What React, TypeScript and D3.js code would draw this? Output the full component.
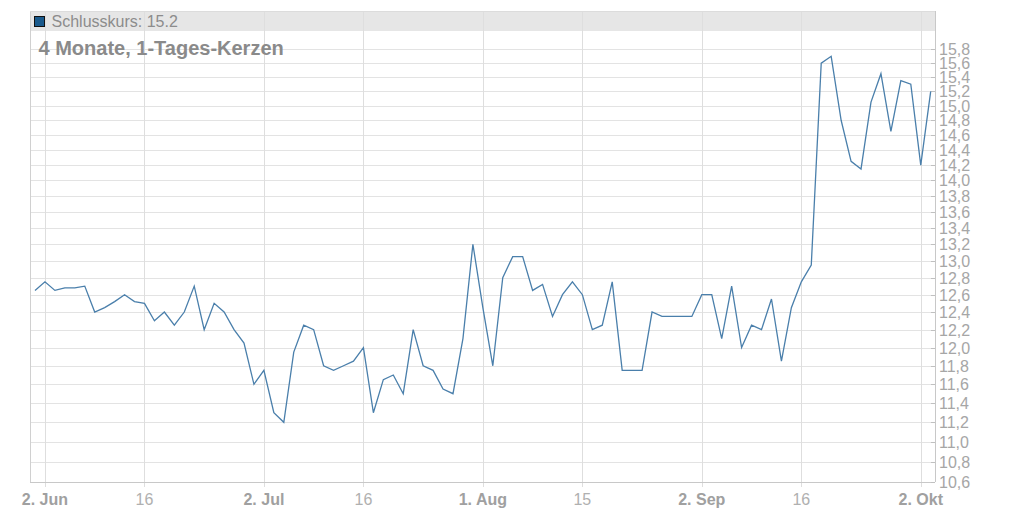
import React from "react";
import * as d3 from "d3";

const closes = [
  12.65, 12.75, 12.65, 12.68, 12.68, 12.7, 12.4, 12.45, 12.52, 12.6,
  12.52, 12.5, 12.3, 12.4, 12.25, 12.4, 12.7, 12.2, 12.5, 12.4,
  12.2, 12.05, 11.6, 11.75, 11.3, 11.2, 11.95, 12.25, 12.2, 11.8,
  11.75, 11.8, 11.85, 12.0, 11.3, 11.65, 11.7, 11.5, 12.2, 11.8,
  11.75, 11.55, 11.5, 12.1, 13.2, 12.45, 11.8, 12.8, 13.05, 13.05,
  12.65, 12.72, 12.35, 12.6, 12.75, 12.6, 12.2, 12.25, 12.75, 11.75,
  11.75, 11.75, 12.4, 12.35, 12.35, 12.35, 12.35, 12.6, 12.6, 12.1,
  12.7, 12.0, 12.25, 12.2, 12.55, 11.85, 12.45, 12.75, 12.95, 15.6,
  15.7, 14.8, 14.25, 14.15, 15.05, 15.45, 14.65, 15.35, 15.3, 14.2, 15.2,
];

const xTickIndex = [1, 11, 23, 33, 45, 55, 67, 77, 89];
const xTickLabels = ["2. Jun", "16", "2. Jul", "16", "1. Aug", "15", "2. Sep", "16", "2. Okt"];
const xTickBold = [true, false, true, false, true, false, true, false, true];

const yTicks = [
  10.6, 10.8, 11.0, 11.2, 11.4, 11.6, 11.8, 12.0, 12.2, 12.4, 12.6, 12.8,
  13.0, 13.2, 13.4, 13.6, 13.8, 14.0, 14.2, 14.4, 14.6, 14.8, 15.0, 15.2,
  15.4, 15.6, 15.8,
];

const seriesName = "Schlusskurs";
const title = "4 Monate, 1-Tages-Kerzen";

export default function App() {
  const W = 1024;
  const H = 512;
  const left = 30;
  const right = 935;
  const top = 11;
  const bottom = 482;

  const x = d3.scaleLinear().domain([0, closes.length - 1]).range([35, 930.7]);
  const y = d3.scaleLog().domain([10.6, 16.37]).range([bottom, top]);

  const line = d3
    .line<number>()
    .x((_, i) => x(i))
    .y((d) => y(d));

  const fmt = (v: number) => d3.format(".1f")(v).replace(".", ",");
  const last = closes[closes.length - 1];
  const font = "'Liberation Sans', Arial, sans-serif";

  return (
    <svg
      width={W}
      height={H}
      style={{ position: "absolute", left: 0, top: 0, display: "block" }}
      fontFamily={font}
    >
      <rect x={0} y={0} width={W} height={H} fill="#ffffff" />
      {yTicks.map((t) => (
        <line
          key={"h" + t}
          x1={left}
          x2={right}
          y1={Math.round(y(t)) + 0.5}
          y2={Math.round(y(t)) + 0.5}
          stroke="#e3e3e3"
          strokeWidth={1}
        />
      ))}
      <rect x={left} y={top} width={right - left} height={20} fill="#e6e6e6" />
      {xTickIndex.map((t, i) => (
        <line
          key={"v" + i}
          x1={Math.round(x(t)) + 0.5}
          x2={Math.round(x(t)) + 0.5}
          y1={top}
          y2={bottom + 5}
          stroke="#dedede"
          strokeWidth={1}
        />
      ))}
      <line x1={left + 0.5} x2={left + 0.5} y1={top} y2={bottom} stroke="#d0d0d0" />
      <line x1={left} x2={right} y1={top + 0.5} y2={top + 0.5} stroke="#dcdcdc" />
      <line x1={left} x2={right} y1={bottom + 0.5} y2={bottom + 0.5} stroke="#c8c8c8" />
      <line x1={right + 0.5} x2={right + 0.5} y1={top} y2={bottom} stroke="#c8c8c8" />
      {yTicks.map((t) => (
        <g key={"yt" + t}>
          <line
            x1={right - 4}
            x2={right}
            y1={Math.round(y(t)) + 0.5}
            y2={Math.round(y(t)) + 0.5}
            stroke="#c0c0c0"
          />
          <text x={939} y={y(t) + 6} fontSize={16} fill="#a6a6a6">
            {fmt(t)}
          </text>
        </g>
      ))}
      {xTickIndex.map((t, i) => (
        <text
          key={"xl" + i}
          x={x(t)}
          y={505}
          textAnchor="middle"
          fontSize={16}
          fontWeight={xTickBold[i] ? "bold" : "normal"}
          fill={xTickBold[i] ? "#a0a0a0" : "#b0b0b0"}
        >
          {xTickLabels[i]}
        </text>
      ))}
      <path d={line(closes) || ""} fill="none" stroke="#4a7fab" strokeWidth={1.3} strokeLinejoin="miter" />
      <rect x={34.5} y={16.5} width={10} height={10} fill="#1a5a8c" stroke="#111" strokeWidth={1} />
      <text x={51.5} y={27} fontSize={16} fill="#8c8c8c">
        {seriesName}: {String(last)}
      </text>
      <text x={38.5} y={54.5} fontSize={20} fontWeight="bold" fill="#8a8a8a">
        {title}
      </text>
    </svg>
  );
}
